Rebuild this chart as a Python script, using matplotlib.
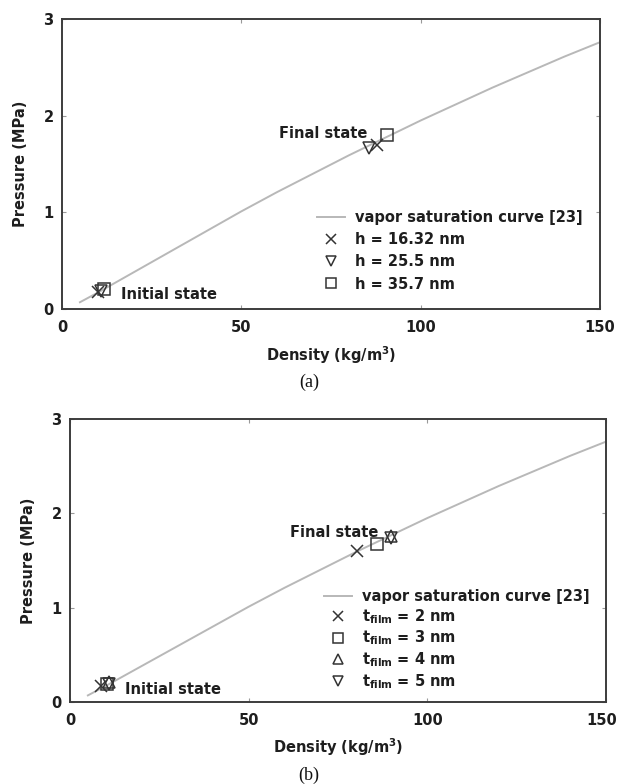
import matplotlib
matplotlib.use("Agg")
import matplotlib.pyplot as plt
from matplotlib.transforms import ScaledTranslation

plt.rcParams["font.family"] = ["DejaVu Sans"]
plt.rcParams["mathtext.fontset"] = "custom"
plt.rcParams["mathtext.rm"] = "DejaVu Sans:bold"
plt.rcParams["mathtext.bf"] = "DejaVu Sans:bold"
plt.rcParams["mathtext.it"] = "DejaVu Sans:bold"

# Vapor saturation curve (density in kg/m^3, pressure in MPa)
sat_density = [5, 10, 20, 30, 40, 50, 60, 70, 80, 90, 100, 110, 120, 130, 140, 150]
sat_pressure = [0.07, 0.17, 0.38, 0.59, 0.80, 1.01, 1.21, 1.40, 1.59, 1.77,
                1.95, 2.12, 2.29, 2.45, 2.61, 2.76]

# Panel (a): channel height h, initial and final states
a_labels = ["h = 16.32 nm", "h = 25.5 nm", "h = 35.7 nm"]
a_markers = ["x", "v", "s"]
a_density = [[9.9, 87.7], [11.0, 85.5], [11.7, 90.7]]
a_pressure = [[0.18, 1.70], [0.19, 1.67], [0.21, 1.80]]

# Panel (b): film thickness t_film, initial and final states
b_labels = [r"t$_{\mathrm{film}}$ = 2 nm", r"t$_{\mathrm{film}}$ = 3 nm",
            r"t$_{\mathrm{film}}$ = 4 nm", r"t$_{\mathrm{film}}$ = 5 nm"]
b_markers = ["x", "s", "^", "v"]
b_density = [[8.6, 80.2], [10.3, 85.8], [11.0, 89.8], [11.0, 89.8]]
b_pressure = [[0.165, 1.60], [0.19, 1.67], [0.21, 1.765], [0.19, 1.735]]

curve_label = "vapor saturation curve [23]"
xticks = [0, 50, 100, 150]
yticks = [0, 1, 2, 3]

TXT = "#1e1e1e"
EDGE = "#333333"
CURVE = "#b8b8b8"
FS = 10.5

fig = plt.figure(figsize=(6.18, 7.84), dpi=100)
ax_a = fig.add_axes([62 / 618, 1 - 309 / 784, 538 / 618, 290 / 784])
ax_b = fig.add_axes([70 / 618, 1 - 702 / 784, 536 / 618, 283 / 784])


def draw_panel(ax, dens, pres, labels, markers, init_xy, final_xy, ms_list):
    ax.plot(sat_density, sat_pressure, color=CURVE, lw=1.4, label=curve_label,
            zorder=2)
    for d, p, lab, m, ms in zip(dens, pres, labels, markers, ms_list):
        ax.plot(d, p, linestyle="none", marker=m, markersize=ms,
                markerfacecolor="none", markeredgecolor=EDGE,
                markeredgewidth=1.1, color=EDGE, label=lab, zorder=3)
    ax.set_xlim(0, 150)
    ax.set_ylim(0, 3)
    ax.set_xticks(xticks)
    ax.set_yticks(yticks)
    ax.tick_params(direction="in", length=3, width=0.8, color="#999999",
                   top=True, right=True, labelsize=FS, labelcolor=TXT)
    ax.tick_params(axis="x", pad=8)
    ax.tick_params(axis="y", pad=6)
    for lab in ax.get_xticklabels() + ax.get_yticklabels():
        lab.set_fontweight("bold")
    for s in ax.spines.values():
        s.set_color("#3c3c3c")
        s.set_linewidth(1.4)
    ax.set_xlabel(r"Density (kg/m$^{3}$)", fontsize=FS, fontweight="bold",
                  color=TXT)
    ax.set_ylabel("Pressure (MPa)", fontsize=FS, fontweight="bold",
                  color=TXT)
    ax.xaxis.set_label_coords(0.5, -0.159)
    ax.xaxis.label.set_va("center")
    ax.yaxis.set_label_coords(-0.078, 0.5)
    ax.yaxis.label.set_va("center")
    ax.text(init_xy[0], init_xy[1], "Initial state", fontsize=FS,
            fontweight="bold", color=TXT, ha="left", va="center")
    ax.text(final_xy[0], final_xy[1], "Final state", fontsize=FS,
            fontweight="bold", color=TXT, ha="right", va="center")


draw_panel(ax_a, a_density, a_pressure, a_labels, a_markers,
           (16.4, 0.15), (85.2, 1.82), [9, 9, 8])
draw_panel(ax_b, b_density, b_pressure, b_labels, b_markers,
           (15.5, 0.13), (86.3, 1.80), [9, 8, 8, 8])

# keep the last density label of the lower panel inside the figure edge
last = ax_b.xaxis.get_major_ticks()[-1].label1
last.set_transform(last.get_transform()
                   + ScaledTranslation(-4 / 100, 0, fig.dpi_scale_trans))

for ax, anchor, spacing in ((ax_a, (0.455, 0.025), 0.5),
                            (ax_b, (0.455, 0.004), 0.2)):
    leg = ax.legend(loc="lower left", bbox_to_anchor=anchor, frameon=False,
                    fontsize=FS, handlelength=1.9, handletextpad=0.7,
                    labelspacing=spacing, borderpad=0.2, markerscale=0.85)
    for t in leg.get_texts():
        t.set_fontweight("bold")
        t.set_color(TXT)

fig.text(0.5, 1 - 382 / 784, "(a)", ha="center", va="center", fontsize=13,
         family=["Liberation Serif"], color="#111111")
fig.text(0.5, 1 - 775 / 784, "(b)", ha="center", va="center", fontsize=13,
         family=["Liberation Serif"], color="#111111")

fig.savefig("out.png", dpi=100)
